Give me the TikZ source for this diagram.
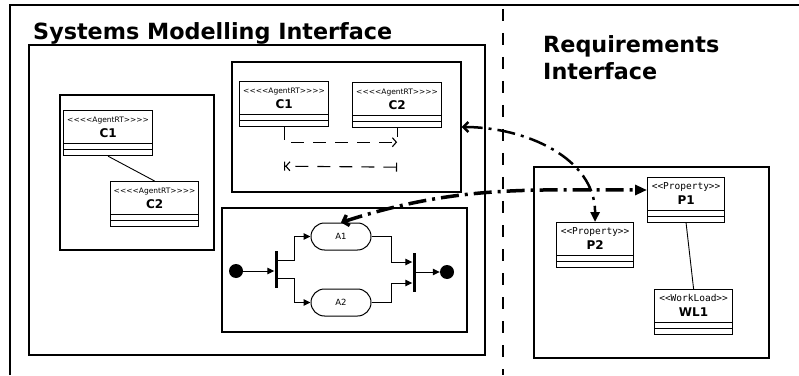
\documentclass[tikz,border=0pt]{standalone}
\usepackage{fontspec}
\setmainfont{DejaVu Sans}[Ligatures=TeXOff]
\newfontfamily\monofont{DejaVu Sans Mono}
\usetikzlibrary{positioning,arrows.meta,calc,shapes.misc}

% stereotype line + bold class name; the deep last strut leaves room for the compartments
\newcommand{\classhead}[2]{\begin{tabular}{@{}c@{}}#1\rule[-4pt]{0pt}{13.5pt}\\{\rmfamily\fontsize{12}{14}\selectfont\bfseries #2}\rule[-16pt]{0pt}{27.5pt}\end{tabular}}

\begin{document}
\begin{tikzpicture}[x=1pt, y=1pt,
  pane/.style={draw, line width=1.2pt, inner sep=0},
  umlclass/.style={draw, line width=1.2pt, inner xsep=2pt, inner ysep=2pt, anchor=north west,
    path picture={\draw[line width=1.2pt]
      ([yshift=12pt]path picture bounding box.south west) -- ([yshift=12pt]path picture bounding box.south east)
      ([yshift=6pt]path picture bounding box.south west) -- ([yshift=6pt]path picture bounding box.south east);}},
  agent/.style={umlclass, minimum width=89pt, font=\fontsize{7.5}{8}\selectfont},
  propclass/.style={umlclass, minimum width=77pt, font=\monofont\fontsize{9.5}{10}\selectfont},
  action/.style={draw, rounded rectangle, line width=1pt, minimum width=60pt, minimum height=27pt,
    inner sep=0, font=\fontsize{8.5}{10}\selectfont},
  dot/.style={circle, fill=black, minimum size=14pt, inner sep=0},
  syncbar/.style={fill=black, minimum width=3pt, inner sep=0},
  flow/.style={line width=1pt, -{Triangle[length=7pt,width=6.5pt]}},
  msg/.style={line width=1.1pt, dash pattern=on 13pt off 9pt},
  trace/.style={dash pattern=on 18pt off 6pt on 3pt off 6pt}]

\useasboundingbox (0,0) rectangle (799,375);

% page frame and the dashed divider
\draw[line width=1.2pt] (10,0) -- (10,370) -- (799,370);
\coordinate (divtop) at (503,366);
\coordinate (divbot) at (503,0);
\draw[line width=1.2pt, dash pattern=on 12pt off 12pt] (divtop) -- (divbot);

% headings
\node[anchor=base west, inner sep=0, font=\fontsize{22.3}{27}\selectfont\bfseries] (systitle) at (33,335) {Systems Modelling Interface};
\node[anchor=base west, inner sep=0, align=left, font=\fontsize{22.3}{27}\selectfont\bfseries] (reqtitle) at (543,295) {Requirements\\Interface};

% containers
\node[pane, minimum width=456pt, minimum height=310pt] (sysbox) at (257,175) {};
\node[pane, minimum width=154pt, minimum height=155pt] (structbox) at (137,202.5) {};
\node[pane, minimum width=229pt, minimum height=130pt] (seqbox) at (346.5,248) {};
\node[pane, minimum width=245pt, minimum height=124pt] (actbox) at (344.5,105) {};
\node[pane, minimum width=235pt, minimum height=191pt] (reqbox) at (651.5,112.5) {};

% structure view
\node[agent] (sC1) at (63,265) {\classhead{<<<<AgentRT>>>>}{C1}};
\node[agent, minimum width=88pt] (sC2) at (110,194) {\classhead{<<<<AgentRT>>>>}{C2}};
\draw[line width=0.9pt] (sC1.south) -- (sC2.north);

% sequence view
\node[agent] (qC1) at (239,294) {\classhead{<<<<AgentRT>>>>}{C1}};
\node[agent] (qC2) at (352,293) {\classhead{<<<<AgentRT>>>>}{C2}};
\coordinate (callend) at ($(qC2.south)+(0,-14)$);
\draw[msg, -{Straight Barb[length=4pt,width=9pt]}] (qC1.south) |- (callend);
\draw[line width=1.1pt] (qC2.south) -- ++(0,-9);
\coordinate (retfrom) at ($(qC2.south)+(0,-39)$);
\coordinate (retto) at ($(qC1.south)+(0,-39)$);
\draw[msg, {Bar[width=9pt]}-{Straight Barb[length=4pt,width=9pt,sep=0pt] Bar[width=9pt,sep=0pt]}] (retfrom) -- (retto);

% activity view
\node[dot] (init) at (236,104) {};
\node[syncbar, minimum height=37pt] (fork) at (276,105.5) {};
\node[action] (A1) at (341,138.5) {A1};
\node[action, below=38pt of A1] (A2) {A2};
\node[syncbar, minimum height=39pt] (join) at (414,102.5) {};
\node[dot] (final) at (447,103) {};
\draw[flow] (init.east) -- (init -| fork.west);
\draw[flow] ($(fork.east)+(0,9)$) -- ++(17,0) |- (A1.west);
\draw[flow] ($(fork.east)+(0,-9)$) -- ++(17,0) |- (A2.west);
\draw[flow] (A1.east) -- ++(20,0) |- ($(join.west)+(0,10.5)$);
\draw[flow] (A2.east) -- ++(20,0) |- ($(join.west)+(0,-10.5)$);
\draw[flow] (join.east |- final) -- (final.west);

% requirements
\node[propclass] (P1) at (647,198) {\classhead{<<Property>>}{P1}};
\node[propclass] (P2) at (556,153) {\classhead{<<Property>>}{P2}};
\node[propclass, minimum width=78pt] (WL1) at (654,86) {\classhead{<<WorkLoad>>}{WL1}};
\draw[line width=0.9pt] (P1.south) -- (WL1.north);

% trace links across the divider
\draw[trace, line width=3.5pt, {Straight Barb[length=5pt,width=11pt]}-{Triangle[length=12pt,width=10pt]}]
  (A1.north) to[out=18,in=180] ($(P1.north west)+(0,-13)$);
\draw[trace, line width=2.5pt, {Straight Barb[length=5pt,width=10pt]}-{Triangle[length=10pt,width=9pt]}]
  (seqbox.east) to[out=0,in=90] (P2.north);
\end{tikzpicture}
\end{document}
